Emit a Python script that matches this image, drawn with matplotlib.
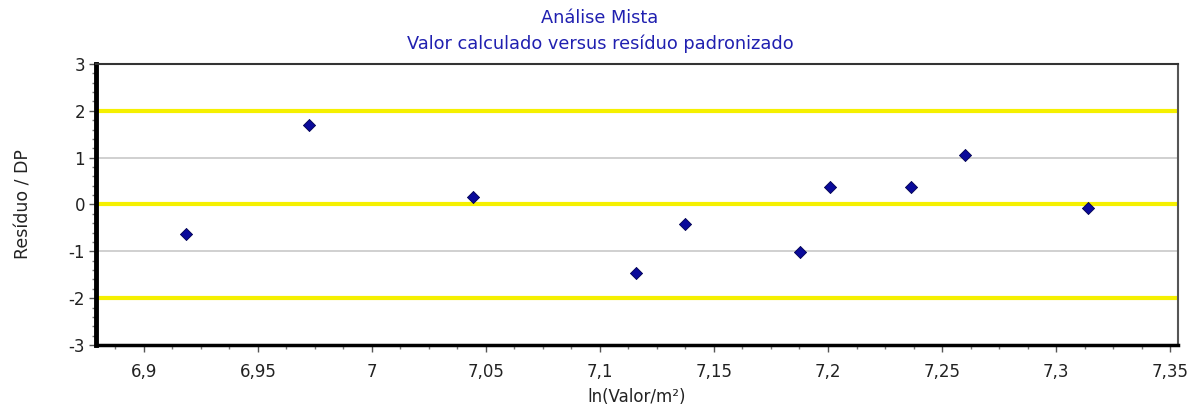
import numpy as np
import matplotlib
matplotlib.use('Agg')
import matplotlib.pyplot as plt
from matplotlib.ticker import MultipleLocator, FuncFormatter

# valor calculado (ln) e residuo padronizado
x_calc = [6.9183, 6.9725, 7.0443, 7.1158, 7.1374, 7.1877, 7.2009, 7.2365, 7.2599, 7.3140]
residuo = [-0.635, 1.70, 0.16, -1.47, -0.41, -1.01, 0.38, 0.38, 1.06, -0.08]

limites_amarelos = [-2, 0, 2]
linhas_cinza = [-1, 1]

plt.rcParams['font.family'] = ['DejaVu Sans']

fig = plt.figure(figsize=(12, 4.07), dpi=100)
ax = fig.add_axes([0.08, 0.1523, 0.9017, 0.6905])

for v in linhas_cinza:
    ax.axhline(v, color='#c8c8c8', lw=1.2, zorder=1)
for v in limites_amarelos:
    ax.axhline(v, color='#f5f000', lw=3, zorder=1)

ax.scatter(x_calc, residuo, marker='D', s=38, color='#0a0a9a', edgecolors='#000050', linewidths=0.6, zorder=3)

ax.set_xlim(6.879, 7.3535)
ax.set_ylim(-3, 3)
ax.xaxis.set_major_locator(MultipleLocator(0.05))
ax.xaxis.set_minor_locator(MultipleLocator(0.0125))
ax.yaxis.set_major_locator(MultipleLocator(1))
ax.yaxis.set_minor_locator(MultipleLocator(0.2))

virgula = FuncFormatter(lambda v, p: ('%g' % round(v, 4)).replace('.', ','))
ax.xaxis.set_major_formatter(virgula)
ax.yaxis.set_major_formatter(virgula)

ax.tick_params(axis='both', which='major', direction='out', length=5, width=1, color='#555555', labelsize=12, labelcolor='#222222')
ax.tick_params(axis='both', which='minor', direction='out', length=3, width=1, color='#777777')
ax.tick_params(axis='y', pad=3)
ax.tick_params(axis='x', pad=8)

ax.spines['left'].set_linewidth(3.5)
ax.spines['bottom'].set_linewidth(2.5)
ax.spines['top'].set_linewidth(1.5)
ax.spines['right'].set_linewidth(1.5)
ax.spines['top'].set_color('#333333')
ax.spines['right'].set_color('#555555')

ax.set_ylabel('Resíduo / DP', fontsize=12.5, color='#222222', labelpad=26)
ax.set_xlabel('ln(Valor/m²)', fontsize=12, color='#222222', labelpad=5)

fig.text(0.5, 0.957, 'Análise Mista', ha='center', va='center', fontsize=12.8, color='#2020b0')
fig.text(0.5, 0.893, 'Valor calculado versus resíduo padronizado', ha='center', va='center', fontsize=12.8, color='#2020b0')

fig.savefig('out.png', dpi=100)
